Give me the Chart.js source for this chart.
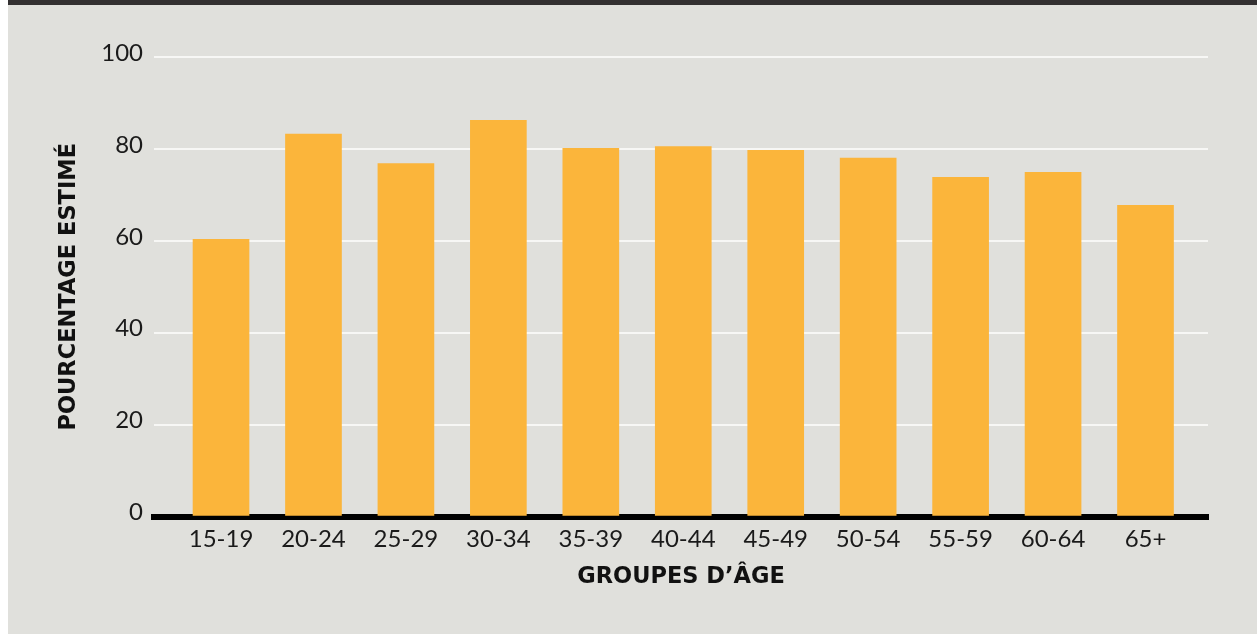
<!DOCTYPE html>
<html>
<head>
<meta charset="utf-8">
<script src="https://cdn.jsdelivr.net/npm/chart.js@4/dist/chart.umd.min.js"></script>
<style>
  html, body { margin: 0; padding: 0; background: #ffffff; }
  #bg { position: absolute; left: 8px; top: 0; width: 1249px; height: 629px; background: #e0e0dc; border-top: 5px solid #333031; }
  #c { position: absolute; left: 0; top: 0; }
</style>
</head>
<body>
<div id="bg"></div>
<canvas id="c" width="1257" height="634"></canvas>
<script>
const categories = ['15-19', '20-24', '25-29', '30-34', '35-39', '40-44', '45-49', '50-54', '55-59', '60-64', '65+'];
const values = [60.3, 83.2, 76.8, 86.2, 80.1, 80.5, 79.7, 78.0, 73.8, 74.9, 67.7];
const yTicks = [0, 20, 40, 60, 80, 100];
const xTitle = 'GROUPES D\u2019\u00C2GE';
const yTitle = 'POURCENTAGE ESTIM\u00C9';

const TICK_FONT = 'Lato, "Noto Sans", sans-serif';
const TITLE_FONT = '"DejaVu Sans", "Noto Sans", sans-serif';

new Chart(document.getElementById('c'), {
  type: 'bar',
  data: {
    datasets: [{
      data: categories.map((c, i) => ({ x: i, y: values[i] })),
      backgroundColor: '#fbb53b',
      borderWidth: 0,
      barThickness: 56
    }]
  },
  options: {
    responsive: false,
    animation: false,
    layout: { padding: { left: 45, right: 49, top: 57, bottom: 0 } },
    plugins: { legend: { display: false }, tooltip: { enabled: false } },
    scales: {
      x: {
        type: 'linear',
        offset: false,
        min: -0.725,
        max: 10.676,
        z: 1,
        afterFit: s => { s.height = 117.5; },
        afterBuildTicks: s => { s.ticks = categories.map((c, i) => ({ value: i })); },
        grid: { display: false, drawTicks: false, offset: false },
        border: { display: true, color: '#000000', width: 6 },
        ticks: {
          autoSkip: false, maxRotation: 0, padding: 8,
          color: '#1a1a1a',
          font: { family: TICK_FONT, size: 24 },
          callback: v => categories[v]
        },
        title: {
          display: true, text: xTitle, color: '#111111',
          font: { family: TITLE_FONT, size: 22.5, weight: 'bold' },
          padding: { top: 0, bottom: 43 }
        }
      },
      y: {
        min: 0, max: 100,
        afterFit: s => { s.width = 109; },
        afterBuildTicks: s => { s.ticks = yTicks.map(v => ({ value: v })); },
        grid: { color: '#f7f7f5', lineWidth: 2, drawTicks: false },
        border: { display: false },
        ticks: {
          padding: 11, labelOffset: -4,
          color: '#1a1a1a',
          font: { family: TICK_FONT, size: 24 }
        },
        title: {
          display: true, text: yTitle, color: '#111111',
          font: { family: TITLE_FONT, size: 22.5, weight: 'bold' },
          padding: { top: 11, bottom: 0 }
        }
      }
    }
  }
});
</script>
</body>
</html>
